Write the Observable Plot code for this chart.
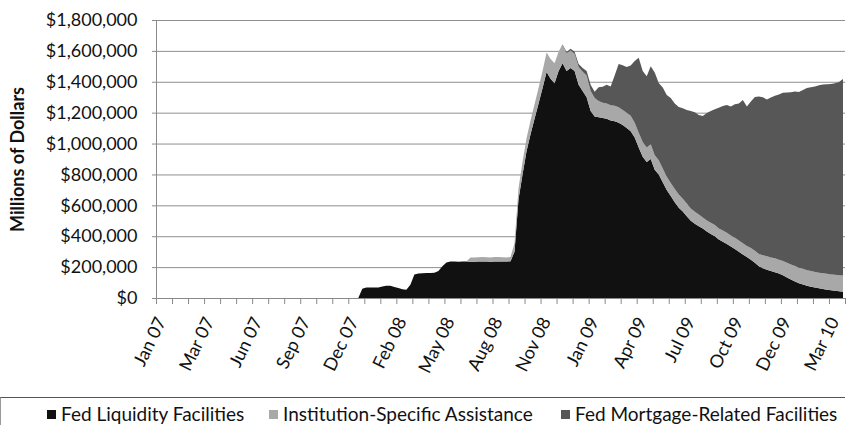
<!DOCTYPE html>
<html>
<head>
<meta charset="utf-8">
<script src="https://cdn.jsdelivr.net/npm/d3@7"></script>
<script src="https://cdn.jsdelivr.net/npm/@observablehq/plot@0.6"></script>
<style>
  body { margin: 0; background: #fff; }
  #chart { position: relative; width: 846px; height: 425px; overflow: hidden; font-family: Lato, "Open Sans", sans-serif; }
  #chart svg { display: block; }
  #legend { position: absolute; left: 0; top: 397px; width: 844px; height: 40px; border-top: 1.5px solid #555; border-left: 1px solid #999; color: #111; font-size: 19px; }
  .item { position: absolute; top: 4px; white-space: nowrap; }
  .sw { display: inline-block; width: 9px; height: 9px; margin-right: 5px; vertical-align: 2px; }
</style>
</head>
<body>
<div id="chart"></div>
<script>
// Series names (stack order, bottom to top)
const seriesNames = ["Fed Liquidity Facilities", "Institution-Specific Assistance", "Fed Mortgage-Related Facilities"];
const seriesColors = ["#111111", "#a8a8a8", "#575757"];

// Weekly categories: Wednesdays from 3 Jan 2007, 172 weeks
const firstWeek = "2007-01-03";
const weekCount = 172;

// Values, millions of dollars (weekly)
const fedLiquidity = [
  0,0,0,0,0,0,0,0,0,0, 0,0,0,0,0,0,0,0,0,0, 0,0,0,0,0,0,0,0,0,0,
  0,0,0,0,0,0,0,0,0,0, 0,0,0,0,0,0,0,0,0,0,
  0, 60000, 68000, 68000, 68000, 68000, 74000, 80000, 80000, 72000,
  64000, 57000, 54000, 85000, 152000, 158000, 160000, 162000, 162000, 163000,
  175000, 205000, 230000, 237000, 236000, 235000, 236000, 237000, 235000, 234000,
  236000, 237000, 236000, 235000, 236000, 237000, 236000, 236000, 238000, 300000,
  640000, 800000, 950000, 1060000, 1160000, 1260000, 1360000, 1464000, 1420000, 1390000,
  1470000, 1520000, 1470000, 1490000, 1470000, 1380000, 1340000, 1300000, 1210000, 1175000,
  1170000, 1165000, 1160000, 1150000, 1145000, 1135000, 1120000, 1100000, 1080000, 1040000,
  975000, 915000, 880000, 900000, 830000, 800000, 750000, 700000, 660000, 620000,
  585000, 560000, 530000, 500000, 480000, 465000, 450000, 430000, 415000, 400000,
  378000, 365000, 350000, 333000, 318000, 300000, 282000, 265000, 248000, 228000,
  205000, 192000, 183000, 175000, 167000, 158000, 148000, 133000, 120000, 107000,
  96000, 88000, 80000, 73000, 68000, 63000, 58000, 54000, 50000, 47000,
  43000, 41000
];
const institutionSpecific = [
  0,0,0,0,0,0,0,0,0,0, 0,0,0,0,0,0,0,0,0,0, 0,0,0,0,0,0,0,0,0,0,
  0,0,0,0,0,0,0,0,0,0, 0,0,0,0,0,0,0,0,0,0, 0,0,0,0,0,0,0,0,0,0,
  0,0,0,0,0,0,0,0,0,0, 0,0,0,0,0,0,0,0,
  27000, 28000, 28000, 29000, 28000, 28000, 29000, 28000, 28000, 27000, 28000,
  55000, 70000, 80000, 85000, 90000, 95000, 100000, 110000, 125000, 128000,
  130000, 125000, 116000, 115000, 112000, 110000, 115000, 125000, 140000, 130000,
  120000, 105000, 100000, 100000, 98000, 100000, 100000, 98000, 100000, 100000,
  95000, 95000, 95000, 95000, 95000, 95000, 92000, 88000, 85000, 85000,
  85000, 85000, 83000, 82000, 80000, 78000, 75000, 72000, 72000, 72000,
  72000, 72000, 72000, 72000, 72000, 72000, 72000, 72000, 72000, 75000,
  78000, 80000, 85000, 88000, 88000, 90000, 90000, 92000, 95000, 97000,
  100000, 100000, 101000, 100000, 102000, 101000, 100000, 102000, 103000, 102000,
  103000, 104000, 104000
];
const mortgageRelated = [
  0,0,0,0,0,0,0,0,0,0, 0,0,0,0,0,0,0,0,0,0, 0,0,0,0,0,0,0,0,0,0,
  0,0,0,0,0,0,0,0,0,0, 0,0,0,0,0,0,0,0,0,0, 0,0,0,0,0,0,0,0,0,0,
  0,0,0,0,0,0,0,0,0,0, 0,0,0,0,0,0,0,0,0,0, 0,0,0,0,0,0,0,0,0,0,
  0,0,0,0,0,0,0,0,0,0, 0,
  5000, 8000, 12000, 15000, 20000, 25000, 30000, 40000, 40000,
  90000, 102000, 120000, 122000, 195000, 280000, 289000, 296000, 325000, 400000,
  485000, 460000, 460000, 505000, 535000, 500000, 525000, 530000, 550000, 555000,
  567000, 585000, 606000, 630000, 644000, 645000, 657000, 696000, 723000, 750000,
  782000, 806000, 828000, 835000, 865000, 888000, 928000, 903000, 950000, 995000,
  1019000, 1023000, 1014000, 1035000, 1053000, 1070000, 1089000, 1102000, 1115000, 1130000,
  1138000, 1157000, 1179000, 1189000, 1200000, 1214000, 1223000, 1227000, 1233000, 1241000,
  1251000, 1273000
];

// Axis ticks
const yTicks = [0, 200000, 400000, 600000, 800000, 1000000, 1200000, 1400000, 1600000, 1800000];
const xTickLabels = ["Jan 07","Mar 07","Jun 07","Sep 07","Dec 07","Feb 08","May 08","Aug 08","Nov 08","Jan 09","Apr 09","Jul 09","Oct 09","Dec 09","Mar 10"];
const labelEvery = 12;   // weeks between labels
const tickEvery = 4;     // weeks between tick marks

// Build table
const start = new Date(firstWeek + "T00:00:00Z");
const weeks = d3.range(weekCount).map(i => d3.utcDay.offset(start, 7 * i));
const seriesValues = [fedLiquidity, institutionSpecific, mortgageRelated];
const table = [];
seriesNames.forEach((name, s) => {
  weeks.forEach((date, i) => table.push({date, series: name, value: seriesValues[s][i]}));
});

const halfWeek = d => d3.utcHour.offset(d, -84);
const xDomain = [halfWeek(weeks[0]), d3.utcHour.offset(weeks[weekCount - 1], 84)];
const labelDates = xTickLabels.map((_, k) => weeks[k * labelEvery]);
const minorTicks = d3.range(0, weekCount + 1, tickEvery).map(i => halfWeek(d3.utcDay.offset(start, 7 * i)));

const plot = Plot.plot({
  width: 846,
  height: 395,
  marginLeft: 156,
  marginRight: 1,
  marginTop: 20,
  marginBottom: 97,
  style: {fontFamily: "Lato, 'Open Sans', sans-serif", color: "#111", background: "#fff"},
  x: {type: "utc", domain: xDomain},
  y: {domain: [0, 1800000]},
  color: {domain: seriesNames, range: seriesColors},
  marks: [
    Plot.ruleY(yTicks.slice(1), {stroke: "#8f8f8f", strokeWidth: 1}),
    Plot.areaY(table, {x: "date", y: "value", fill: "series", z: "series", order: seriesNames}),
    Plot.ruleY([0], {stroke: "#8a8a8a", strokeWidth: 1}),
    Plot.ruleX([xDomain[0]], {stroke: "#8a8a8a", strokeWidth: 1}),
    Plot.axisY({ticks: yTicks, tickFormat: d => "$" + d3.format(",")(d), tickSize: 4, tickPadding: 15, fontSize: 18, stroke: "#8a8a8a", label: null}),
    Plot.axisX({ticks: minorTicks, tickFormat: () => "", tickSize: 6, stroke: "#8a8a8a", label: null}),
    Plot.axisX({ticks: labelDates, tickFormat: (d, i) => xTickLabels[i], tickSize: 0, tickPadding: 20, dx: 3, tickRotate: -64, fontSize: 18, label: null}),
    Plot.text(["Millions of Dollars"], {frameAnchor: "left", textAnchor: "middle", rotate: -90, dx: -138, fontWeight: "bold", fontSize: 18, fill: "#111"})
  ]
});

const chart = document.getElementById("chart");
chart.appendChild(plot);

const legend = document.createElement("div");
legend.id = "legend";
const itemLeft = [46, 268, 560];
seriesNames.forEach((name, s) => {
  const item = document.createElement("span");
  item.className = "item";
  item.style.left = itemLeft[s] + "px";
  const sw = document.createElement("span");
  sw.className = "sw";
  sw.style.background = seriesColors[s];
  item.appendChild(sw);
  item.appendChild(document.createTextNode(name));
  legend.appendChild(item);
});
chart.appendChild(legend);
</script>
</body>
</html>
